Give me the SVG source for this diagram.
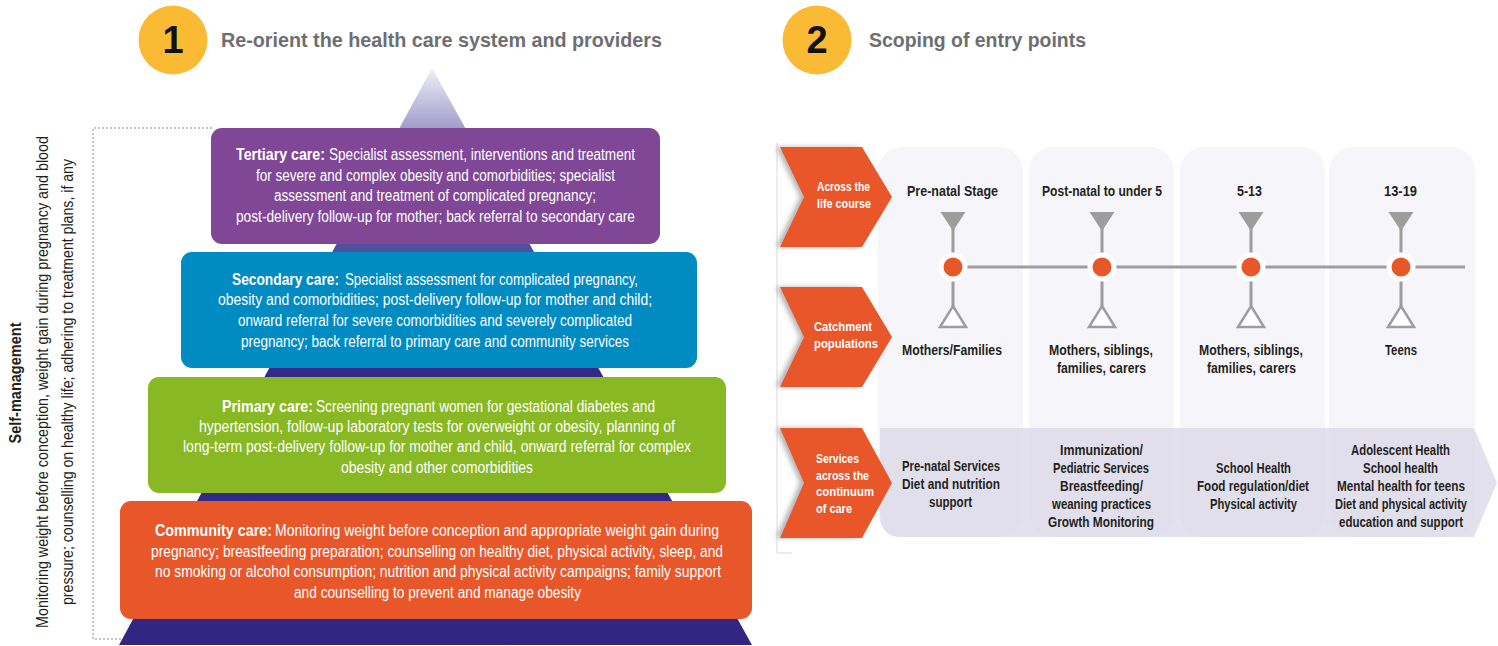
<svg xmlns="http://www.w3.org/2000/svg" width="1498" height="646" viewBox="0 0 1498 646">
<style>
  .box { font-family: "Liberation Sans", Arial, sans-serif; font-size: 16px; fill: #ffffff; }
  .b { font-weight: bold; }
  .title { font-family: "Liberation Sans", Arial, sans-serif; font-size: 21px; font-weight: bold; fill: #6d6e71; }
  .num { font-family: "Liberation Sans", Arial, sans-serif; font-size: 38px; font-weight: bold; fill: #111111; }
  .side { font-family: "Liberation Sans", Arial, sans-serif; font-size: 16px; fill: #231f20; }
  .chev { font-family: "Liberation Sans", Arial, sans-serif; font-size: 13px; font-weight: bold; fill: #ffffff; }
  .hdr { font-family: "Liberation Sans", Arial, sans-serif; font-size: 15px; font-weight: bold; fill: #231f20; }
  .svc { font-family: "Liberation Sans", Arial, sans-serif; font-size: 14.5px; font-weight: bold; fill: #231f20; }
  .dash { stroke: #b3b3b3; stroke-width: 1.5; stroke-dasharray: 2 2; fill: none; }
  .col { fill: #f6f6fa; }
  .tl { stroke: #9d9d9c; stroke-width: 3; fill: none; }
  .dot { fill: #e8572a; stroke: #ffffff; stroke-width: 5; }
  .tri-down { fill: #9d9d9c; }
  .tri-up { fill: #ffffff; stroke: #9d9d9c; stroke-width: 2.5; }
  .chevron { fill: #e8572a; filter: url(#shadow); }
</style>
<defs>
  <linearGradient id="pyr" gradientUnits="userSpaceOnUse" x1="0" y1="68" x2="0" y2="645">
    <stop offset="0" stop-color="#f0eff7"/>
    <stop offset="0.104" stop-color="#a19dca"/>
    <stop offset="0.31" stop-color="#4f4f9e"/>
    <stop offset="0.53" stop-color="#33298a"/>
    <stop offset="1" stop-color="#312783"/>
  </linearGradient>
  <filter id="shadow" x="-20%" y="-10%" width="130%" height="120%">
    <feDropShadow dx="-4" dy="0" stdDeviation="2.5" flood-color="#777777" flood-opacity="0.55"/>
  </filter>
</defs>

<g id="header-1">
  <circle cx="173" cy="40" r="34.5" fill="#fbba33"/>
  <text class="num" x="173" y="53" text-anchor="middle">1</text>
  <text class="title" x="221" y="47" textLength="441" lengthAdjust="spacingAndGlyphs">Re-orient the health care system and providers</text>
</g>
<g id="header-2">
  <circle cx="817" cy="40" r="34.5" fill="#fbba33"/>
  <text class="num" x="817" y="53" text-anchor="middle">2</text>
  <text class="title" x="869" y="47" textLength="217" lengthAdjust="spacingAndGlyphs">Scoping of entry points</text>
</g>

<g id="self-management">
  <path class="dash" d="M212 128 H93 V639 H121"/>
  <text class="side b" transform="translate(21,383) rotate(-90)" text-anchor="middle" textLength="121" lengthAdjust="spacingAndGlyphs">Self-management</text>
  <text class="side" transform="translate(48,382) rotate(-90)" text-anchor="middle" textLength="492" lengthAdjust="spacingAndGlyphs">Monitoring weight before conception, weight gain during pregnancy and blood</text>
  <text class="side" transform="translate(73,382) rotate(-90)" text-anchor="middle" textLength="446" lengthAdjust="spacingAndGlyphs">pressure; counselling on healthy life; adhering to treatment plans, if any</text>
</g>

<g id="pyramid">
  <polygon points="432,68 752,645 119,645" fill="url(#pyr)"/>
</g>

<g id="tertiary">
  <rect x="211" y="128" width="449" height="116" rx="11" fill="#7f4795"/>
  <text class="box b" x="236" y="160" textLength="89" lengthAdjust="spacingAndGlyphs">Tertiary care:</text>
  <text class="box" x="329" y="160" textLength="306" lengthAdjust="spacingAndGlyphs">Specialist assessment, interventions and treatment</text>
  <text class="box" x="256" y="181" textLength="359" lengthAdjust="spacingAndGlyphs">for severe and complex obesity and comorbidities; specialist</text>
  <text class="box" x="274" y="201" textLength="322" lengthAdjust="spacingAndGlyphs">assessment and treatment of complicated pregnancy;</text>
  <text class="box" x="236" y="222" textLength="399" lengthAdjust="spacingAndGlyphs">post-delivery follow-up for mother; back referral to secondary care</text>
</g>

<g id="secondary">
  <rect x="181" y="252" width="516" height="116" rx="11" fill="#008bc2"/>
  <text class="box b" x="232" y="285" textLength="107" lengthAdjust="spacingAndGlyphs">Secondary care:</text>
  <text class="box" x="345" y="285" textLength="293" lengthAdjust="spacingAndGlyphs">Specialist assessment for complicated pregnancy,</text>
  <text class="box" x="218" y="305" textLength="434" lengthAdjust="spacingAndGlyphs">obesity and comorbidities; post-delivery follow-up for mother and child;</text>
  <text class="box" x="238" y="326" textLength="394" lengthAdjust="spacingAndGlyphs">onward referral for severe comorbidities and severely complicated</text>
  <text class="box" x="241" y="347" textLength="388" lengthAdjust="spacingAndGlyphs">pregnancy; back referral to primary care and community services</text>
</g>

<g id="primary">
  <rect x="148" y="377" width="578" height="116" rx="11" fill="#89b825"/>
  <text class="box b" x="222" y="412" textLength="91" lengthAdjust="spacingAndGlyphs">Primary care:</text>
  <text class="box" x="316" y="412" textLength="339" lengthAdjust="spacingAndGlyphs">Screening pregnant women for gestational diabetes and</text>
  <text class="box" x="199" y="432" textLength="476" lengthAdjust="spacingAndGlyphs">hypertension, follow-up laboratory tests for overweight or obesity, planning of</text>
  <text class="box" x="183" y="452" textLength="508" lengthAdjust="spacingAndGlyphs">long-term post-delivery follow-up for mother and child, onward referral for complex</text>
  <text class="box" x="341" y="473" textLength="192" lengthAdjust="spacingAndGlyphs">obesity and other comorbidities</text>
</g>

<g id="community">
  <rect x="120" y="501" width="632" height="118" rx="11" fill="#e8572a"/>
  <text class="box b" x="155" y="536" textLength="117" lengthAdjust="spacingAndGlyphs">Community care:</text>
  <text class="box" x="275" y="536" textLength="444" lengthAdjust="spacingAndGlyphs">Monitoring weight before conception and appropriate weight gain during</text>
  <text class="box" x="151" y="557" textLength="572" lengthAdjust="spacingAndGlyphs">pregnancy; breastfeeding preparation; counselling on healthy diet, physical activity, sleep, and</text>
  <text class="box" x="155" y="577" textLength="566" lengthAdjust="spacingAndGlyphs">no smoking or alcohol consumption; nutrition and physical activity campaigns; family support</text>
  <text class="box" x="294" y="598" textLength="287" lengthAdjust="spacingAndGlyphs">and counselling to prevent and manage obesity</text>
</g>

<g id="columns">
  <line x1="777" y1="143" x2="777" y2="553" stroke="#ececec" stroke-width="2"/>
  <line x1="777" y1="553" x2="792" y2="553" stroke="#ececec" stroke-width="2"/>
  <rect class="col" x="878" y="147" width="145" height="390" rx="24"/>
  <rect class="col" x="1029" y="147" width="145" height="390" rx="24"/>
  <rect class="col" x="1180" y="147" width="145" height="390" rx="24"/>
  <rect class="col" x="1329" y="147" width="146" height="390" rx="24"/>
</g>

<g id="services-band">
  <path d="M880 428 H1474 L1497 483 L1474 537 H902 Q880 537 880 515 Z" fill="#d9d5e8" fill-opacity="0.72"/>
</g>

<g id="chevron-life-course">
  <polygon class="chevron" points="780,147 862,147 892,197 862,247 780,247 804,197"/>
  <text class="chev" x="817" y="191" textLength="53" lengthAdjust="spacingAndGlyphs">Across the</text>
  <text class="chev" x="817" y="208" textLength="54" lengthAdjust="spacingAndGlyphs">life course</text>
</g>
<g id="chevron-catchment">
  <polygon class="chevron" points="780,287 862,287 892,337 862,387 780,387 804,337"/>
  <text class="chev" x="814" y="331" textLength="58" lengthAdjust="spacingAndGlyphs">Catchment</text>
  <text class="chev" x="814" y="348" textLength="64" lengthAdjust="spacingAndGlyphs">populations</text>
</g>
<g id="chevron-services">
  <polygon class="chevron" points="780,428 862,428 892,483 862,538 780,538 804,483"/>
  <text class="chev" x="816" y="463" textLength="43" lengthAdjust="spacingAndGlyphs">Services</text>
  <text class="chev" x="816" y="480" textLength="53" lengthAdjust="spacingAndGlyphs">across the</text>
  <text class="chev" x="816" y="496" textLength="58" lengthAdjust="spacingAndGlyphs">continuum</text>
  <text class="chev" x="816" y="513" textLength="36" lengthAdjust="spacingAndGlyphs">of care</text>
</g>

<g id="connectors">
  <line class="tl" x1="953" y1="267" x2="1465" y2="267"/>
  <line class="tl" x1="953" y1="228" x2="953" y2="306"/>
  <line class="tl" x1="1102" y1="228" x2="1102" y2="306"/>
  <line class="tl" x1="1251" y1="228" x2="1251" y2="306"/>
  <line class="tl" x1="1401" y1="228" x2="1401" y2="306"/>
</g>

<g id="stage-prenatal">
  <text class="hdr" x="907" y="196" textLength="91" lengthAdjust="spacingAndGlyphs">Pre-natal Stage</text>
  <polygon class="tri-down" points="940.5,212 965.5,212 953,231"/>
  <circle class="dot" cx="953" cy="267" r="12"/>
  <polygon class="tri-up" points="953,306 966,327 940,327"/>
  <text class="hdr" x="902" y="355" textLength="100" lengthAdjust="spacingAndGlyphs">Mothers/Families</text>
  <text class="svc" x="902" y="471" textLength="98" lengthAdjust="spacingAndGlyphs">Pre-natal Services</text>
  <text class="svc" x="902" y="489" textLength="98" lengthAdjust="spacingAndGlyphs">Diet and nutrition</text>
  <text class="svc" x="929" y="507" textLength="43" lengthAdjust="spacingAndGlyphs">support</text>
</g>

<g id="stage-postnatal">
  <text class="hdr" x="1042" y="196" textLength="120" lengthAdjust="spacingAndGlyphs">Post-natal to under 5</text>
  <polygon class="tri-down" points="1089.5,212 1114.5,212 1102,231"/>
  <circle class="dot" cx="1102" cy="267" r="12"/>
  <polygon class="tri-up" points="1102,306 1115,327 1089,327"/>
  <text class="hdr" x="1049" y="355" textLength="104" lengthAdjust="spacingAndGlyphs">Mothers, siblings,</text>
  <text class="hdr" x="1057" y="373" textLength="89" lengthAdjust="spacingAndGlyphs">families, carers</text>
  <text class="svc" x="1060" y="455" textLength="83" lengthAdjust="spacingAndGlyphs">Immunization/</text>
  <text class="svc" x="1053" y="473" textLength="96" lengthAdjust="spacingAndGlyphs">Pediatric Services</text>
  <text class="svc" x="1060" y="491" textLength="83" lengthAdjust="spacingAndGlyphs">Breastfeeding/</text>
  <text class="svc" x="1052" y="509" textLength="99" lengthAdjust="spacingAndGlyphs">weaning practices</text>
  <text class="svc" x="1048" y="527" textLength="106" lengthAdjust="spacingAndGlyphs">Growth Monitoring</text>
</g>

<g id="stage-5-13">
  <text class="hdr" x="1237" y="196" textLength="25" lengthAdjust="spacingAndGlyphs">5-13</text>
  <polygon class="tri-down" points="1238.5,212 1263.5,212 1251,231"/>
  <circle class="dot" cx="1251" cy="267" r="12"/>
  <polygon class="tri-up" points="1251,306 1264,327 1238,327"/>
  <text class="hdr" x="1199" y="355" textLength="104" lengthAdjust="spacingAndGlyphs">Mothers, siblings,</text>
  <text class="hdr" x="1207" y="373" textLength="89" lengthAdjust="spacingAndGlyphs">families, carers</text>
  <text class="svc" x="1216" y="473" textLength="75" lengthAdjust="spacingAndGlyphs">School Health</text>
  <text class="svc" x="1197" y="491" textLength="112" lengthAdjust="spacingAndGlyphs">Food regulation/diet</text>
  <text class="svc" x="1210" y="509" textLength="87" lengthAdjust="spacingAndGlyphs">Physical activity</text>
</g>

<g id="stage-13-19">
  <text class="hdr" x="1384" y="196" textLength="33" lengthAdjust="spacingAndGlyphs">13-19</text>
  <polygon class="tri-down" points="1388.5,212 1413.5,212 1401,231"/>
  <circle class="dot" cx="1401" cy="267" r="12"/>
  <polygon class="tri-up" points="1401,306 1414,327 1388,327"/>
  <text class="hdr" x="1385" y="355" textLength="32" lengthAdjust="spacingAndGlyphs">Teens</text>
  <text class="svc" x="1351" y="455" textLength="99" lengthAdjust="spacingAndGlyphs">Adolescent Health</text>
  <text class="svc" x="1363" y="473" textLength="75" lengthAdjust="spacingAndGlyphs">School health</text>
  <text class="svc" x="1337" y="491" textLength="128" lengthAdjust="spacingAndGlyphs">Mental health for teens</text>
  <text class="svc" x="1401" y="509" text-anchor="middle" textLength="132" lengthAdjust="spacingAndGlyphs">Diet and physical activity</text>
  <text class="svc" x="1339" y="527" textLength="124" lengthAdjust="spacingAndGlyphs">education and support</text>
</g>
</svg>
